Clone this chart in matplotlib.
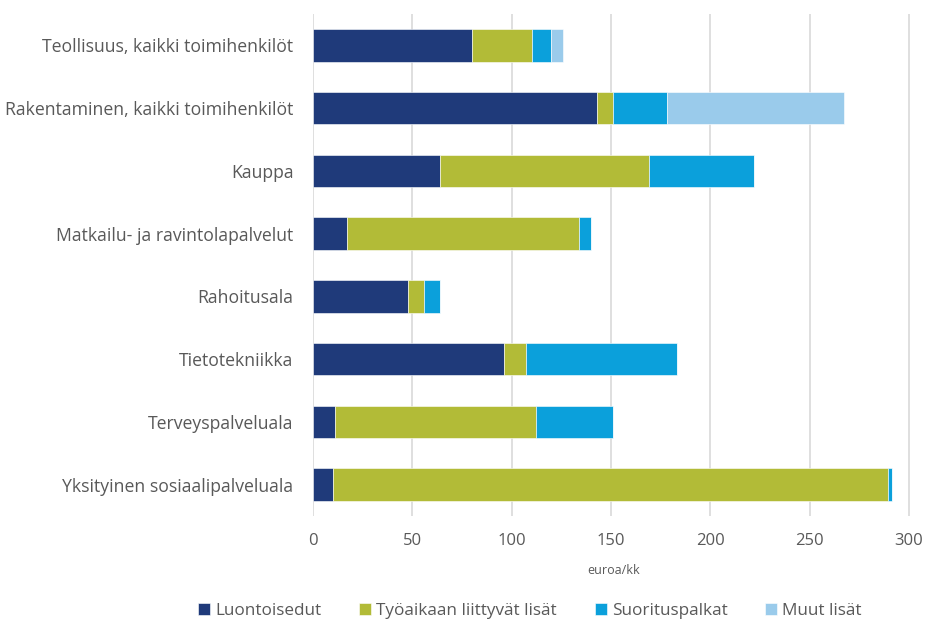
import numpy as np
import matplotlib.pyplot as plt

# Data
categories = [
    "Teollisuus, kaikki toimihenkilöt",
    "Rakentaminen, kaikki toimihenkilöt",
    "Kauppa",
    "Matkailu- ja ravintolapalvelut",
    "Rahoitusala",
    "Tietotekniikka",
    "Terveyspalveluala",
    "Yksityinen sosiaalipalveluala",
]
luontoisedut = [80, 143, 64, 17, 48, 96, 11, 10]
tyoaika = [30, 8, 105, 117, 8, 11, 101, 279.5]
suoritus = [10, 27, 53, 6, 8, 76, 39, 2]
muut = [6, 89.5, 0, 0, 0, 0, 0, 0]

series = [
    ("Luontoisedut", luontoisedut, "#1F3A7A"),
    ("Työaikaan liittyvät lisät", tyoaika, "#B2BB37"),
    ("Suorituspalkat", suoritus, "#0BA0DB"),
    ("Muut lisät", muut, "#9ACBEB"),
]

plt.rcParams['font.family'] = ['Open Sans', 'DejaVu Sans']
text_col = "#595959"

fig = plt.figure(figsize=(9.27, 6.21), dpi=100)
ax = fig.add_axes([313 / 927, 1 - 516 / 621, (915 - 313) / 927, (516 - 14) / 621])

y = np.arange(len(categories))
left = np.zeros(len(categories))
for name, vals, col in series:
    vals = np.array(vals, dtype=float)
    ax.barh(y, vals, left=left, height=0.52, color=col, label=name,
            edgecolor="white", linewidth=0.4, zorder=3)
    left += vals

ax.set_ylim(len(categories) - 0.5, -0.5)
ax.set_xlim(0, 303)
ax.set_xticks(np.arange(0, 301, 50))
ax.set_yticks(y)
ax.set_yticklabels(categories)
ax.tick_params(axis="x", length=0, labelsize=12, colors=text_col, pad=12)
ax.tick_params(axis="y", length=0, labelsize=12.7, colors=text_col, pad=14)
ax.grid(axis="x", color="#D9D9D9", linewidth=1.2, zorder=0)
for s in ax.spines.values():
    s.set_visible(False)

ax.set_xlabel("euroa/kk", fontsize=9, color=text_col, labelpad=11)

handles, labels = ax.get_legend_handles_labels()
fig.legend(handles, labels, loc="center", bbox_to_anchor=(530 / 927, 1 - 611 / 621),
           ncol=4, frameon=False, fontsize=12.3, labelcolor=text_col,
           handlelength=0.7, handleheight=0.7, handletextpad=0.3, columnspacing=2.2)

fig.savefig("out.png", dpi=100)
